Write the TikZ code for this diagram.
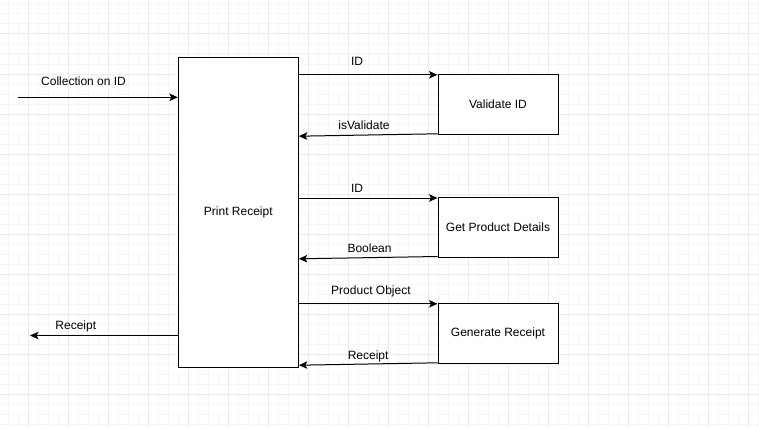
\documentclass[tikz,border=0pt]{standalone}
\usepackage{fontspec}
\setmainfont{Liberation Sans}
\usetikzlibrary{calc,positioning,arrows.meta}

\definecolor{gridmajor}{HTML}{EBEBEB}
\definecolor{gridminor}{HTML}{F6F6F6}

\tikzset{
  procbox/.style={draw=black,line width=1pt,fill=white,inner sep=0pt,
    minimum width=120pt,minimum height=60pt,
    font=\fontsize{12}{14}\selectfont},
  flow/.style={line width=1pt,-{Stealth[length=8.5pt,width=7.5pt,inset=2pt]}},
  lbl/.style={inner sep=0pt,anchor=base,font=\fontsize{12}{14}\selectfont}
}

\begin{document}
\begin{tikzpicture}[x=1pt,y=-1pt]

% background and grid
\fill[white] (0,0) rectangle (759,428);
\useasboundingbox (0,0) rectangle (759,428);
\foreach \x in {8,18,...,758} \draw[gridminor,line width=1pt] (\x,0) -- (\x,428);
\foreach \y in {4,14,...,424} \draw[gridminor,line width=1pt] (0,\y) -- (759,\y);
\foreach \x in {28,68,...,748} \draw[gridmajor,line width=1pt] (\x,0) -- (\x,428);
\foreach \y in {34,74,...,394} \draw[gridmajor,line width=1pt] (0,\y) -- (759,\y);

% processes
\node[procbox,minimum height=310pt] (print) at (238.3,212.3) {Print Receipt};
\node[procbox] (validate) at (498,104.3) {Validate ID};
\node[procbox] (details) at (498,227) {Get Product Details};
\node[procbox] (generate) at (498,333.3) {Generate Receipt};

% outside ends
\coordinate (collect) at (18,97.3);
\coordinate (out) at (30,335.5);

% flows
\draw[flow] (collect) -- (collect -| print.west)
  node[lbl,pos=0.41,yshift=11.6pt] {Collection on ID};
\draw[flow] (print.west |- out) -- (out)
  node[lbl,pos=0.69,yshift=6pt] {Receipt};

\draw[flow] ($(print.east |- validate.north)+(0,1)$) -- ($(validate.north west)+(0,1)$)
  node[lbl,pos=0.42,yshift=9.3pt] {ID};
\draw[flow] ($(validate.south west)+(0,-1)$) -- ($(print.east |- validate.south)+(0,1.4)$)
  node[lbl,pos=0.53,yshift=5.3pt] {isValidate};

\draw[flow] ($(print.east |- details.north)+(0,1.5)$) -- ($(details.north west)+(0,1.5)$)
  node[lbl,pos=0.42,yshift=6pt] {ID};
\draw[flow] ($(details.south west)+(0,-1)$) -- ($(print.east |- details.south)+(0,1.3)$)
  node[lbl,pos=0.49,yshift=5pt] {Boolean};

\draw[flow] ($(print.east |- generate.north)+(0,1)$) -- ($(generate.north west)+(0,1)$)
  node[lbl,pos=0.52,yshift=9.3pt] {Product Object};
\draw[flow] ($(generate.south west)+(0,-1)$) -- ($(print.east |- generate.south)+(0,1.4)$)
  node[lbl,pos=0.5,yshift=4.5pt] {Receipt};

\end{tikzpicture}
\end{document}
